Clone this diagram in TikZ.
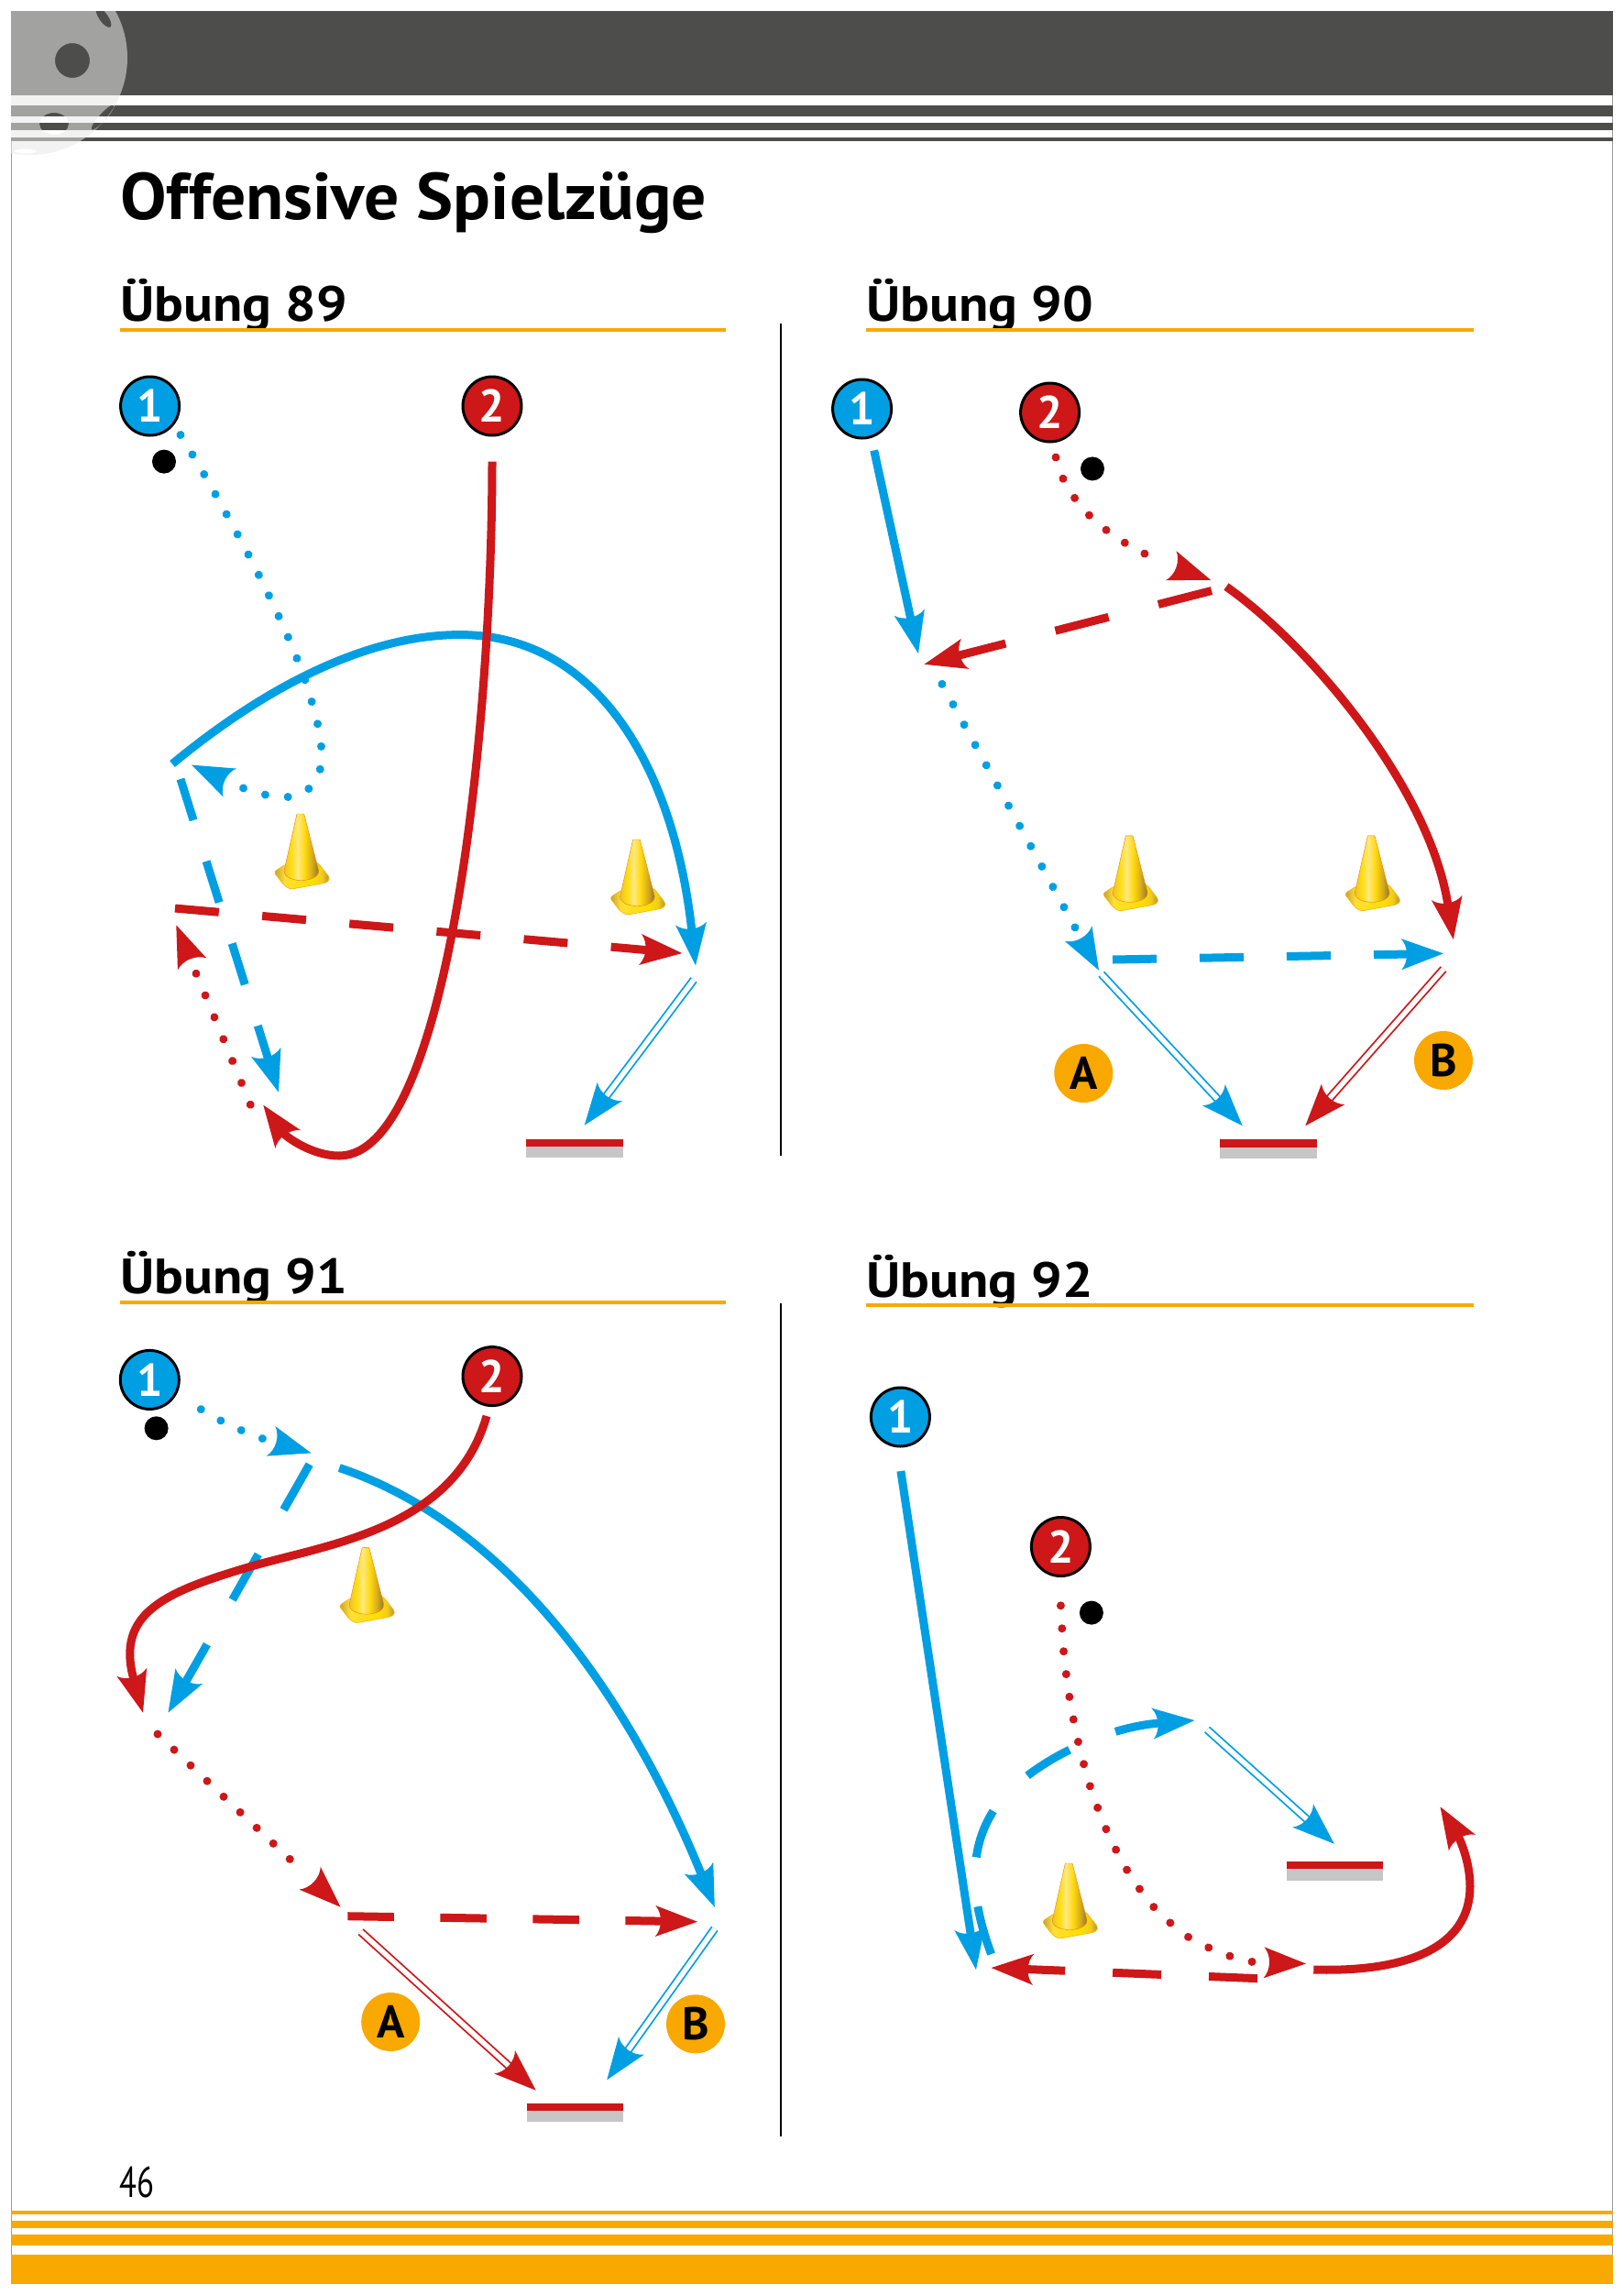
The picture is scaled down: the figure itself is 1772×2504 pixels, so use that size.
\documentclass[tikz,border=0pt]{standalone}
\usepackage{fontspec}
\setmainfont{PT Sans}
\newfontfamily\condfont[FakeStretch=0.74]{PT Sans}
\usetikzlibrary{calc,arrows.meta,shapes.geometric}
\definecolor{cblue}{HTML}{009FE3}
\definecolor{cred}{HTML}{CD1719}
\definecolor{corange}{HTML}{F9A800}
\definecolor{cdark}{HTML}{4D4D4B}
\definecolor{cgray}{HTML}{C6C6C6}
\definecolor{cframe}{HTML}{9D9D9D}
\pgfdeclarehorizontalshading{conesh}{100bp}{rgb(0bp)=(0.93,0.75,0.2);rgb(25bp)=(0.93,0.75,0.2);rgb(35bp)=(1,0.87,0.05);rgb(45bp)=(1,0.91,0.5);rgb(55bp)=(1,0.85,0.05);rgb(65bp)=(0.85,0.68,0.1);rgb(75bp)=(0.55,0.47,0.2);rgb(100bp)=(0.55,0.47,0.2)}
\pgfdeclarehorizontalshading{basesh}{100bp}{rgb(0bp)=(0.75,0.62,0.2);rgb(25bp)=(0.75,0.62,0.2);rgb(35bp)=(1,0.88,0.2);rgb(60bp)=(1,0.87,0);rgb(68bp)=(0.95,0.8,0.1);rgb(75bp)=(0.65,0.56,0.25);rgb(100bp)=(0.65,0.56,0.25)}
\pgfdeclarearrow{name=Sk,
 setup code={\pgfarrowssettipend{0pt}\pgfarrowssetlineend{-38pt}\pgfarrowssetvisualbackend{-40pt}\pgfarrowssetbackend{-46pt}},
 drawing code={
  \pgfpathmoveto{\pgfqpoint{0pt}{0pt}}
  \pgfpathlineto{\pgfqpoint{-46pt}{17pt}}
  \pgfpathcurveto{\pgfqpoint{-38pt}{8pt}}{\pgfqpoint{-38pt}{-8pt}}{\pgfqpoint{-46pt}{-17pt}}
  \pgfpathclose\pgfusepathqfill}}
\newcommand{\skhead}[3]{\draw[#1,-{Sk},line width=.1pt] ($(#3)!40pt!(#2)$) -- (#3);}
\tikzset{
 bl/.style={color=cblue},
 rd/.style={color=cred},
 solidrun/.style={-{Sk},line width=9pt},
 dashrun/.style={-{Sk},line width=9pt,dash pattern=on #1},
 dotrun/.style={line width=9pt,line cap=round,dash pattern=on 0.01pt off #1},
 shotrun/.style={-{Sk},line width=1.8pt,double=white,double distance=5.5pt},
 player/.style={circle,draw=black,line width=3pt,minimum size=64pt,inner sep=0pt,text=white,font=\fontsize{50}{50}\selectfont\bfseries},
 letterdisc/.style={circle,fill=corange,minimum size=64pt,inner sep=0pt,text=black,font=\fontsize{50}{50}\selectfont\bfseries},
 ball/.style={circle,fill=black,minimum size=26pt,inner sep=0pt},
 heading/.style={anchor=base west,inner sep=0pt,font=\fontsize{54}{54}\selectfont\bfseries\addfontfeature{FakeStretch=1.1}},
 headrule/.style={corange,line width=4pt},
 divider/.style={black,line width=1.6pt},
 conepic/.pic={
  \shade[shading=basesh,draw=black!0!orange!60!yellow,line width=.6pt,rounded corners=3pt]
    (-29,64.3)--(-16,56)--(19,54)--(32.3,71)--(29,76)--(-11,83.3)--(-17.7,79)--cycle;
  \shade[shading=conesh,draw=orange!60!brown,line width=.4pt]
    (-3.7,1)--(4,1)--(20,63) .. controls (20,77) and (-18,77) .. (-17.7,63)--cycle;
 }
}
\newcommand{\goalbar}[4]{\fill[cgray] (#1,#3) rectangle (#2,#4); \fill[cred] (#1,#3-8.3) rectangle (#2,#3);}
\begin{document}
\begin{tikzpicture}[x=1pt,y=-1pt]
\useasboundingbox (0,0) rectangle (1772,2504);
\fill[white] (0,0) rectangle (1772,2504);
% page frame
\draw[cframe,line width=1.5pt] (12.6,150) -- (12.6,2491);
\draw[cframe,line width=1.5pt] (1759.4,12) -- (1759.4,2491);
% header
\fill[cdark] (12,12) rectangle (1760,104);
\fill[cdark] (12,115) rectangle (1760,127);
\fill[cdark] (12,134) rectangle (1760,142);
\fill[cdark] (12,149.5) rectangle (1760,154);
\begin{scope}
\clip (12,12) rectangle (1760,300);
\fill[color={rgb,255:red,233;green,233;blue,233},opacity=.55,even odd rule]
  (33,63) circle[radius=106]
  (79,66) circle[radius=19]
  (113,19) ellipse[x radius=13,y radius=5,rotate=-55]
  (59,135) ellipse[x radius=16,y radius=12]
  (112,128) ellipse[x radius=18,y radius=4,rotate=48]
  (28,165) ellipse[x radius=12,y radius=2.5];
\end{scope}
% footer
\fill[corange] (12,2411.5) rectangle (1760,2415.7);
\fill[corange] (12,2423) rectangle (1760,2431);
\fill[corange] (12,2438) rectangle (1760,2450);
\fill[corange] (12,2460) rectangle (1760,2491.7);
\node[anchor=base west,inner sep=0pt,font=\fontsize{47}{47}\selectfont\condfont] (pageno) at (130,2397.7) {46};
% title
\node[anchor=base west,inner sep=0pt,font=\fontsize{72}{72}\selectfont\bfseries\addfontfeature{FakeStretch=1.05}] (title) at (131,239) {Offensive Spielzüge};
% headings
\node[heading] (h89) at (131,350) {Übung 89};
\node[heading] (h90) at (945,350) {Übung 90};
\node[heading] (h91) at (131,1411) {Übung 91};
\node[heading] (h92) at (945,1415) {Übung 92};
\draw[headrule] (131,360) -- (792,360);
\draw[headrule] (945,360) -- (1608,360);
\draw[headrule] (131,1421) -- (792,1421);
\draw[headrule] (945,1424) -- (1608,1424);
\draw[divider] (852,353) -- (852,1261);
\draw[divider] (852,1422) -- (852,2331);

%%%%% Uebung 89
\pic at (327.7,887) {conepic};
\pic at (694.3,915) {conepic};
\goalbar{574.3}{680}{1251.3}{1263}
\node[player,fill=cblue] (a1) at (163.6,443) {1};
\node[player,fill=cred] (a2) at (537,443) {2};
\node[ball] (aball) at (179,503.6) {};
\coordinate (a3) at (209,834.6);
\coordinate (a4) at (188,833.5);
\coordinate (a5) at (759,1053.3);
\coordinate (a6) at (197,850);
\coordinate (a7) at (304,1191.7);
\coordinate (a8) at (191,991);
\coordinate (a9) at (744.3,1040);
\coordinate (a10) at (537,503.6);
\coordinate (a11) at (287.3,1205.7);
\coordinate (a12) at (192.3,1009.3);
\coordinate (a13) at (757,1069);
\coordinate (a14) at (637.7,1227.7);
\draw[bl,dotrun=25pt] plot[smooth] coordinates {(197,474.5) (223,518) (248,562.5) (272,607) (295,653) (316,699) (334.5,746.6) (348,796) (350.6,821) (347.5,846) (331.4,865) (306.4,870) (281.4,865) (257.3,857)};
\skhead{bl}{257.3,857}{a3}
\draw[bl,solidrun] (a4) .. controls (295,745) and (405,692) .. (503,692.6) .. controls (650,693) and (735,835) .. (a5);
\draw[rd,solidrun] (a10) .. controls (537,790) and (490,1261) .. (370,1261) .. controls (340,1261) and (312,1240) .. (a11);
\draw[bl,dashrun=47pt off 47pt] (a6) -- (a7);
\draw[rd,dashrun=48pt off 47.5pt] (a8) -- (a9);
\draw[rd,dotrun=25.8pt] plot[smooth] coordinates {(273.3,1205.3) (253.3,1156.7) (233.3,1108.3) (213,1060)};
\skhead{rd}{213,1060}{a12}
\draw[bl,shotrun] (a13) -- (a14);

%%%%% Uebung 90
\pic at (1232,910.8) {conepic};
\pic at (1496,910.8) {conepic};
\goalbar{1331}{1436.7}{1251.7}{1263.7}
\node[player,fill=cblue] (b1) at (940.6,446) {1};
\node[player,fill=cred] (b2) at (1145.6,450) {2};
\node[ball] (bball) at (1192,511.4) {};
\node[letterdisc] (bA) at (1182.3,1171) {A};
\node[letterdisc] (bB) at (1575,1157) {B};
\coordinate (b3) at (953.7,491.4);
\coordinate (b4) at (1002,713);
\coordinate (b5) at (1321,632.8);
\coordinate (b6) at (1322,644.5);
\coordinate (b7) at (1008.5,724.8);
\coordinate (b8) at (1338,640);
\coordinate (b9) at (1585.8,1025);
\coordinate (b10) at (1199,1058.7);
\coordinate (b11) at (1214,1047);
\coordinate (b12) at (1575,1040.3);
\coordinate (b13) at (1575,1057.3);
\coordinate (b14) at (1424.3,1228.3);
\coordinate (b15) at (1201.7,1062.7);
\coordinate (b16) at (1355.7,1228.3);
\draw[bl,solidrun] (b3) -- (b4);
\draw[rd,dotrun=24.6pt] plot[smooth] coordinates {(1152,499) (1159.7,521.8) (1172.3,543) (1188.3,562) (1206.7,578) (1227,592) (1248.4,603.8) (1270.7,614.6)};
\skhead{rd}{1270.7,614.6}{b5}
\draw[rd,dashrun=60pt off 56pt] (b6) -- (b7);
\draw[rd,solidrun] (b8) .. controls (1430,705) and (1560,860) .. (b9);
\draw[bl,dotrun=25.2pt] plot[smooth] coordinates {(1027.8,746.4) (1076.3,835) (1124.8,923.4) (1173,1012)};
\skhead{bl}{1173,1012}{b10}
\draw[bl,dashrun=48pt off 47pt] (b11) -- (b12);
\draw[rd,shotrun] (b13) -- (b14);
\draw[bl,shotrun] (b15) -- (b16);

%%%%% Uebung 91
\pic at (398.8,1687.6) {conepic};
\goalbar{574.5}{680}{2303.3}{2314.7}
\node[player,fill=cblue] (c1) at (163.3,1505.4) {1};
\node[player,fill=cred] (c2) at (537,1501.6) {2};
\node[ball] (cball) at (170.6,1558.3) {};
\node[letterdisc] (cA) at (426.2,2206) {A};
\node[letterdisc] (cB) at (759,2208.3) {B};
\coordinate (c3) at (339.6,1585.4);
\coordinate (c4) at (337.7,1597.7);
\coordinate (c5) at (183.5,1868.6);
\coordinate (c6) at (370.3,1601.5);
\coordinate (c7) at (779.8,2080.7);
\coordinate (c8) at (531,1545);
\coordinate (c9) at (156,1868.6);
\coordinate (c10) at (371.6,2080.7);
\coordinate (c11) at (379.4,2090.7);
\coordinate (c12) at (761,2096.7);
\coordinate (c13) at (393.6,2107.7);
\coordinate (c14) at (584.7,2280.7);
\coordinate (c15) at (779.8,2104.3);
\coordinate (c16) at (662.2,2269.3);
\draw[bl,dotrun=24.8pt] plot[smooth] coordinates {(219.3,1537.6) (241.3,1550.2) (264.3,1561) (287.7,1570)};
\skhead{bl}{287.7,1570}{c3}
\draw[bl,dashrun=57pt off 56pt] (c4) -- (c5);
\draw[bl,solidrun] (c6) .. controls (560,1665) and (690,1860) .. (c7);
\draw[rd,solidrun] (c8) .. controls (495,1670) and (355,1685) .. (270.7,1710) .. controls (180,1737) and (126,1760) .. (c9);
\draw[rd,dotrun=24.8pt] plot[smooth] coordinates {(172,1892) (243,1959.3) (314.8,2027) (332.6,2044)};
\skhead{rd}{332.6,2044}{c10}
\draw[rd,dashrun=50.5pt off 50.5pt] (c11) -- (c12);
\draw[rd,shotrun] (c13) -- (c14);
\draw[bl,shotrun] (c15) -- (c16);

%%%%% Uebung 92
\pic at (1166,2032) {conepic};
\goalbar{1403.5}{1509}{2039.2}{2051.6}
\node[player,fill=cblue] (d1) at (982.4,1546) {1};
\node[player,fill=cred] (d2) at (1157.4,1687.5) {2};
\node[ball] (dball) at (1190.9,1759.6) {};
\coordinate (d3) at (982.9,1605);
\coordinate (d4) at (1065,2149);
\coordinate (d5) at (1425,2142.5);
\coordinate (d6) at (1372,2158.6);
\coordinate (d7) at (1081.6,2147);
\coordinate (d8) at (1433.3,2149);
\coordinate (d9) at (1571.5,1971.3);
\coordinate (d10) at (1081.6,2132);
\coordinate (d11) at (1303.4,1877);
\coordinate (d12) at (1317,1887);
\coordinate (d13) at (1455.8,2011.7);
\draw[bl,solidrun] (d3) -- (d4);
\draw[rd,dotrun=25pt] plot[smooth] coordinates {(1157.4,1751.8) (1160.6,1802.3) (1167,1852.4) (1176.7,1901.5) (1190,1950.6) (1207.9,1998) (1231.3,2043) (1261,2082.9) (1299.7,2115.4) (1345.6,2135.6) (1370,2141)};
\skhead{rd}{1370,2141}{d5}
\draw[rd,dashrun=53pt off 52pt] (d6) -- (d7);
\draw[rd,solidrun] (d8) .. controls (1535,2152) and (1604,2125) .. (1604,2058) .. controls (1604,2030) and (1592,2005) .. (d9);
\draw[bl,dashrun=54pt off 54pt] (d10) .. controls (1060,2075) and (1055,2020) .. (1084.4,1975) .. controls (1115,1928) and (1200,1885) .. (d11);
\draw[bl,shotrun] (d12) -- (d13);
\end{tikzpicture}
\end{document}
